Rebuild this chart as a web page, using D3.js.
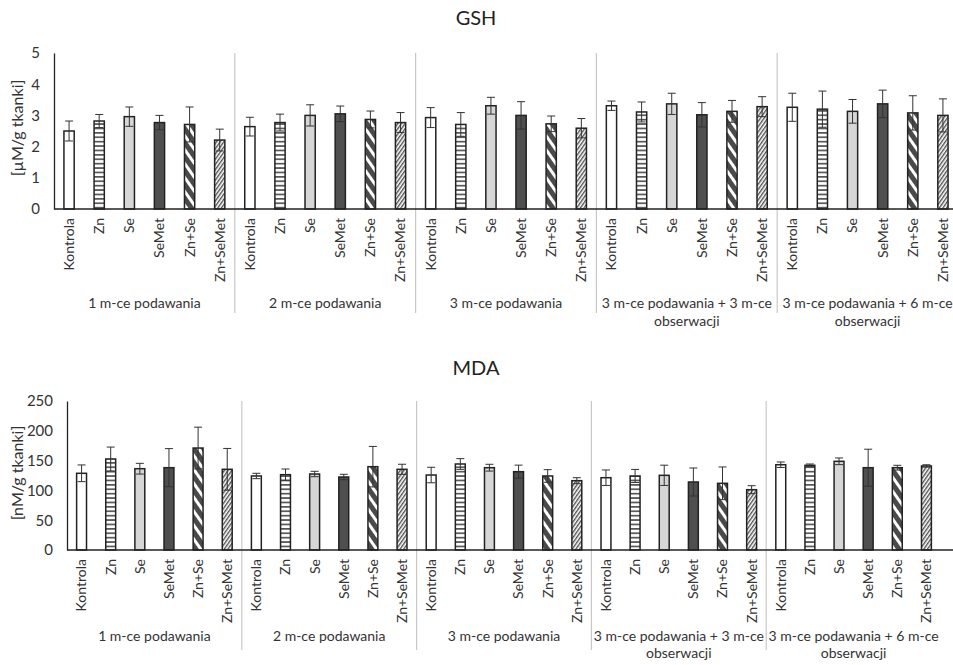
<!DOCTYPE html>
<html>
<head>
<meta charset="utf-8">
<script src="https://cdn.jsdelivr.net/npm/d3@7"></script>
<style>
  body { margin: 0; background: #fff; }
  text { font-family: Lato, "Liberation Sans", sans-serif; fill: #333; }
</style>
</head>
<body>
<div id="chart"></div>
<script>
// Data
var groups = ["1 m-ce podawania", "2 m-ce podawania", "3 m-ce podawania",
              "3 m-ce podawania + 3 m-ce obserwacji", "3 m-ce podawania + 6 m-ce obserwacji"];
var treatments = ["Kontrola", "Zn", "Se", "SeMet", "Zn+Se", "Zn+SeMet"];

var gshMean = [2.50, 2.82, 2.96, 2.77, 2.71, 2.21,
               2.64, 2.77, 3.00, 3.05, 2.87, 2.77,
               2.93, 2.71, 3.31, 3.00, 2.73, 2.59,
               3.31, 3.11, 3.37, 3.02, 3.13, 3.28,
               3.26, 3.20, 3.13, 3.37, 3.08, 3.00];
var gshSd   = [0.32, 0.21, 0.31, 0.23, 0.56, 0.35,
               0.30, 0.27, 0.34, 0.25, 0.27, 0.32,
               0.32, 0.38, 0.27, 0.44, 0.25, 0.31,
               0.15, 0.32, 0.34, 0.39, 0.35, 0.32,
               0.45, 0.58, 0.38, 0.44, 0.55, 0.53];

var mdaMean = [128.7, 152.7, 136.4, 138.1, 171.1, 135.4,
               124.2, 126.4, 127.5, 122.5, 139.8, 135.4,
               125.8, 144.3, 138.1, 131.4, 124.2, 116.3,
               121.3, 124.2, 125.3, 114.1, 111.9, 101.2,
               143.1, 142.1, 148.8, 138.1, 138.1, 141.0];
var mdaSd   = [14, 20, 9, 32, 35, 35,
               4.5, 9.5, 4.5, 4.5, 34, 8.5,
               13, 9, 5.7, 11, 10.6, 5,
               13, 11, 17, 23.5, 27.4, 6.7,
               4.6, 2.2, 5.6, 31, 4, 2];

var gshTicks = [0, 1, 2, 3, 4, 5];
var mdaTicks = [0, 50, 100, 150, 200, 250];

var svg = d3.select("#chart").append("svg")
    .attr("width", 953)
    .attr("height", 665);

// fill patterns, one per treatment
var defs = svg.append("defs");

var pHoriz = defs.append("pattern").attr("id", "p-horiz")
    .attr("patternUnits", "userSpaceOnUse").attr("width", 6).attr("height", 4.4);
pHoriz.append("rect").attr("width", 6).attr("height", 4.4).attr("fill", "#fff");
pHoriz.append("rect").attr("y", 0).attr("width", 6).attr("height", 1.7).attr("fill", "#555");

var pWide = defs.append("pattern").attr("id", "p-wide")
    .attr("patternUnits", "userSpaceOnUse").attr("width", 8).attr("height", 8)
    .attr("patternTransform", "rotate(-35)");
pWide.append("rect").attr("width", 8).attr("height", 8).attr("fill", "#4a4a4a");
pWide.append("rect").attr("x", 0).attr("width", 3).attr("height", 8).attr("fill", "#fff");

var pFine = defs.append("pattern").attr("id", "p-fine")
    .attr("patternUnits", "userSpaceOnUse").attr("width", 3).attr("height", 3)
    .attr("patternTransform", "rotate(35)");
pFine.append("rect").attr("width", 3).attr("height", 3).attr("fill", "#fff");
pFine.append("rect").attr("width", 1.4).attr("height", 3).attr("fill", "#505050");

var fills = ["#ffffff", "url(#p-horiz)", "#d6d6d6", "#4f4f4f", "url(#p-wide)", "url(#p-fine)"];

// long group names: last word goes on a second line
function wrapLast(sel, lineH) {
  sel.each(function() {
    var t = d3.select(this), words = t.text().split(" ");
    if (words.length < 5) return;
    var x = t.attr("x"), y = +t.attr("y");
    t.text(null);
    t.append("tspan").attr("x", x).attr("y", y).text(words.slice(0, -1).join(" "));
    t.append("tspan").attr("x", x).attr("y", y + lineH).text(words[words.length - 1]);
  });
}

function drawChart(o) {
  var g = svg.append("g");
  var rows = [];
  groups.forEach(function(gr, gi) {
    treatments.forEach(function(tr, ti) {
      var k = gi * treatments.length + ti;
      rows.push({ key: k, group: gr, t: ti, label: tr, mean: o.mean[k], sd: o.sd[k] });
    });
  });

  var x = d3.scaleBand()
      .domain(rows.map(function(d) { return d.key; }))
      .range([o.left, o.right])
      .paddingInner(0.66)
      .paddingOuter(0.33);
  var xg = d3.scaleBand().domain(groups).range([o.left, o.right]);
  var y = d3.scaleLinear().domain(o.domain).range([o.zero, o.top]);

  // title
  g.append("text")
      .attr("x", 476).attr("y", o.titleY)
      .attr("text-anchor", "middle")
      .style("font-size", "20px")
      .style("fill", "#222")
      .text(o.title);

  // y axis
  var ya = g.append("g")
      .attr("transform", "translate(" + o.left + ",0)")
      .call(d3.axisLeft(y).tickValues(o.ticks).tickFormat(d3.format("d"))
            .tickSize(0).tickPadding(o.tickPad));
  ya.select(".domain").attr("stroke", "#222").attr("stroke-width", 1.3);
  ya.selectAll("text").style("font-size", "15px").style("fill", "#333")
      .style("font-family", "Lato, sans-serif");

  g.append("text")
      .attr("transform", "translate(" + o.ylabX + "," + o.ylabY + ") rotate(-90)")
      .attr("text-anchor", "middle")
      .attr("dy", "0.35em")
      .style("font-size", "16px")
      .text(o.ylabel);

  // group separators
  g.selectAll(".sep")
    .data(groups.slice(1))
    .enter().append("line")
      .attr("x1", function(d) { return xg(d); })
      .attr("x2", function(d) { return xg(d); })
      .attr("y1", o.top)
      .attr("y2", o.sepBottom)
      .attr("stroke", "#c8c8c8")
      .attr("stroke-width", 1.2);

  // bars
  g.selectAll(".bar")
    .data(rows)
    .enter().append("rect")
      .attr("x", function(d) { return x(d.key); })
      .attr("y", function(d) { return y(d.mean); })
      .attr("width", x.bandwidth())
      .attr("height", function(d) { return y(0) - y(d.mean); })
      .attr("fill", function(d) { return fills[d.t]; })
      .attr("stroke", "#222")
      .attr("stroke-width", 1.5);

  // error bars
  var eb = g.selectAll(".err").data(rows).enter().append("g");
  var cap = 4;
  eb.append("line")
      .attr("x1", function(d) { return x(d.key) + x.bandwidth() / 2; })
      .attr("x2", function(d) { return x(d.key) + x.bandwidth() / 2; })
      .attr("y1", function(d) { return y(d.mean - d.sd); })
      .attr("y2", function(d) { return y(d.mean + d.sd); });
  eb.append("line")
      .attr("x1", function(d) { return x(d.key) + x.bandwidth() / 2 - cap; })
      .attr("x2", function(d) { return x(d.key) + x.bandwidth() / 2 + cap; })
      .attr("y1", function(d) { return y(d.mean + d.sd); })
      .attr("y2", function(d) { return y(d.mean + d.sd); });
  eb.append("line")
      .attr("x1", function(d) { return x(d.key) + x.bandwidth() / 2 - cap; })
      .attr("x2", function(d) { return x(d.key) + x.bandwidth() / 2 + cap; })
      .attr("y1", function(d) { return y(d.mean - d.sd); })
      .attr("y2", function(d) { return y(d.mean - d.sd); });
  eb.selectAll("line").attr("stroke", "#333").attr("stroke-width", 1);

  // baseline
  g.append("line")
      .attr("x1", o.left).attr("x2", 953)
      .attr("y1", y(0)).attr("y2", y(0))
      .attr("stroke", "#222").attr("stroke-width", 1.5);

  // category labels
  g.selectAll(".cat")
    .data(rows)
    .enter().append("text")
      .attr("transform", function(d) {
        return "translate(" + (x(d.key) + x.bandwidth() / 2) + "," + (y(0) + o.catPad) + ") rotate(-90)";
      })
      .attr("text-anchor", "end")
      .attr("dy", "0.35em")
      .style("font-size", "14px")
      .text(function(d) { return d.label; });

  // group labels
  g.selectAll(".grp")
    .data(groups)
    .enter().append("text")
      .attr("x", function(d) { return xg(d) + xg.bandwidth() / 2; })
      .attr("y", o.groupY)
      .attr("text-anchor", "middle")
      .style("font-size", "14px")
      .text(function(d) { return d; })
      .call(wrapLast, o.lineH);
}

drawChart({
  title: "GSH", titleY: 25, mean: gshMean, sd: gshSd, domain: [0, 5], ticks: gshTicks,
  left: 54, right: 958, top: 53, zero: 209, tickPad: 14,
  ylabel: "[\u00b5M/g tkanki]", ylabX: 17, ylabY: 128,
  sepBottom: 313, catPad: 9, groupY: 308, lineH: 18
});

drawChart({
  title: "MDA", titleY: 375, mean: mdaMean, sd: mdaSd, domain: [0, 250], ticks: mdaTicks,
  left: 67, right: 941, top: 401, zero: 550, tickPad: 14,
  ylabel: "[nM/g tkanki]", ylabX: 17, ylabY: 473,
  sepBottom: 650, catPad: 9, groupY: 641, lineH: 17
});
</script>
</body>
</html>
